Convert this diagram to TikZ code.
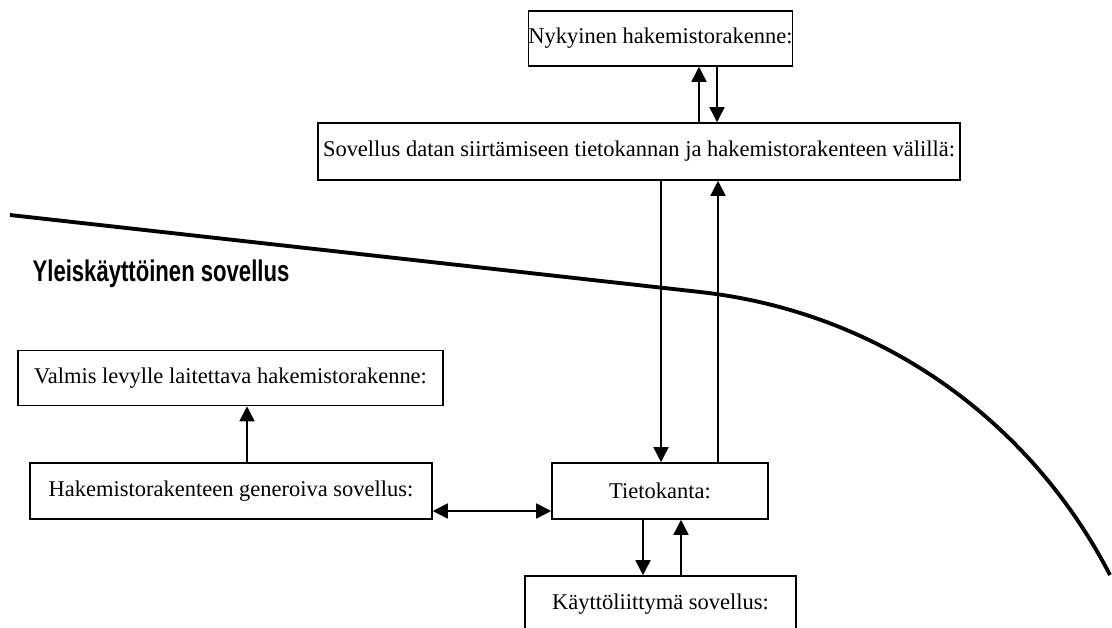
\documentclass[tikz,border=0pt]{standalone}
\usepackage{fontspec}
\setmainfont{Liberation Serif}
\newfontfamily\bannerfont[FakeStretch=0.74]{Liberation Sans}
\usetikzlibrary{arrows.meta,positioning,calc}

\tikzset{
  box/.style={draw,line width=0.9pt,inner sep=0pt,font=\fontsize{12.8}{14}\selectfont},
  arr/.style={line width=0.9pt,-{Triangle[length=0.3cm,width=0.3cm]}},
  arrboth/.style={line width=0.9pt,{Triangle[length=0.3cm,width=0.3cm]}-{Triangle[length=0.3cm,width=0.3cm]}}
}

\begin{document}
\begin{tikzpicture}[x=0.02cm,y=-0.02cm]

  \useasboundingbox (0,0) rectangle (1112,628);

  % boundary of the general-purpose part
  \draw[line width=2.2pt] (10,215) -- (700,292)
    .. controls (880,312) and (1030,420) .. (1110,575);
  \node[font=\bannerfont\bfseries\fontsize{17}{18}\selectfont] (yleis) at (161,274) {Yleiskäyttöinen sovellus};

  % boxes
  \node[box,minimum width=5.26cm,minimum height=1.1cm] (nyky) at (660.5,38.5) {Nykyinen hakemistorakenne:};
  \node[box,minimum width=12.84cm,minimum height=1.14cm] (siirto) at (639,151.5) {Sovellus datan siirtämiseen tietokannan ja hakemistorakenteen välillä:};
  \node[box,minimum width=8.5cm,minimum height=1.1cm] (valmis) at (230.5,378) {Valmis levylle laitettava hakemistorakenne:};
  \node[box,minimum width=8.04cm,minimum height=1.12cm] (gener) at (231,491) {Hakemistorakenteen generoiva sovellus:};
  \node[box,minimum width=4.32cm,minimum height=1.12cm] (tieto) at (660,491) {Tietokanta:};
  \node[box,minimum width=5.42cm,minimum height=1.12cm] (kaytto) at (660.5,604) {Käyttöliittymä sovellus:};

  % connectors
  \draw[arr] (siirto.north -| 699,0) -- (nyky.south -| 699,0);
  \draw[arr] (nyky.south -| 717,0) -- (siirto.north -| 717,0);
  \draw[arr] (siirto.south -| 661,0) -- (tieto.north -| 661,0);
  \draw[arr] (tieto.north -| 718,0) -- (siirto.south -| 718,0);
  \draw[arr] (gener.north -| 247,0) -- (valmis.south -| 247,0);
  \draw[arrboth] (gener.east |- 0,511) -- (tieto.west |- 0,511);
  \draw[arr] (tieto.south -| 643,0) -- (kaytto.north -| 643,0);
  \draw[arr] (kaytto.north -| 681,0) -- (tieto.south -| 681,0);

\end{tikzpicture}
\end{document}
